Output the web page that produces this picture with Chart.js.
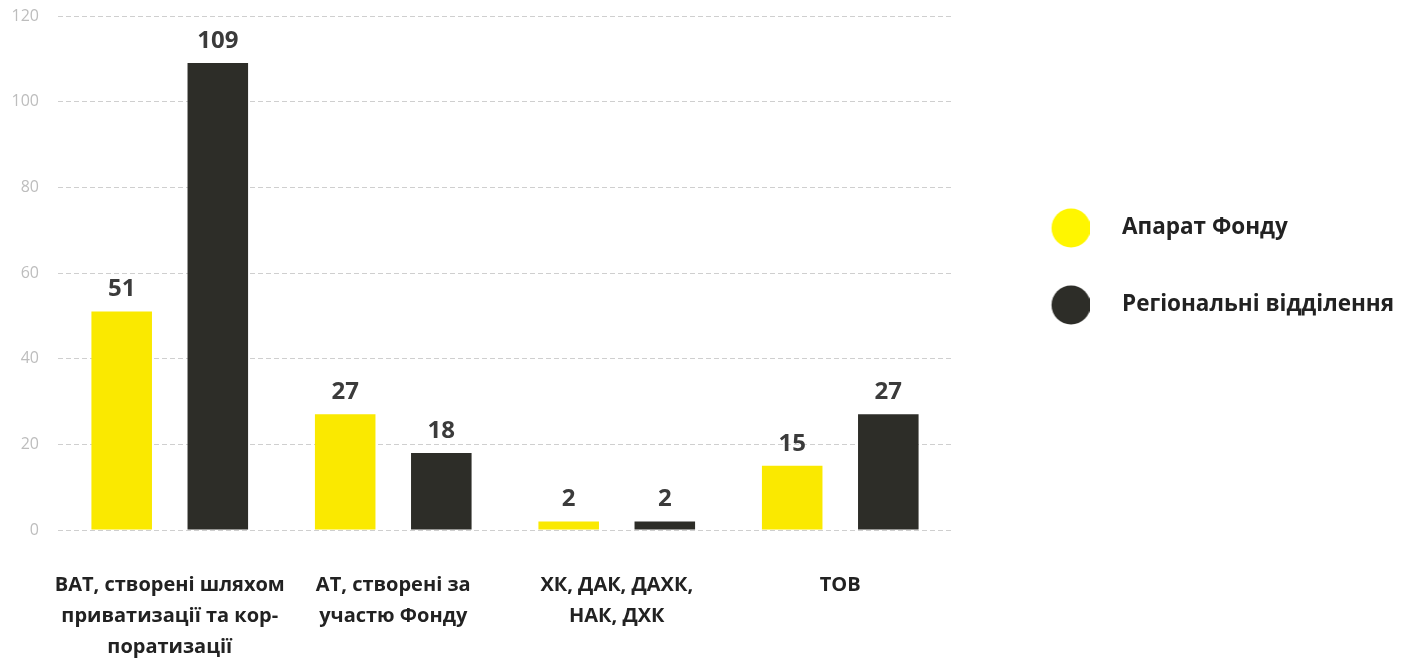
<!DOCTYPE html>
<html>
<head>
<meta charset="utf-8">
<script src="https://cdn.jsdelivr.net/npm/chart.js@4"></script>
<style>
  html, body { margin: 0; padding: 0; background: #fff; overflow: hidden; }
  #wrap { width: 1414px; height: 659px; }
</style>
</head>
<body>
<div id="wrap"><canvas id="typesChart"></canvas></div>
<script>
// categories (x axis), multi-line like the original
let categories = [
    ["ВАТ, створені шляхом", "приватизації та кор-", "поратизації"],
    ["АТ, створені за", "участю Фонду"],
    ["ХК, ДАК, ДАХК,", "НАК, ДХК"],
    "ТОВ",
];
let seriesNames = ["Апарат Фонду", "Регіональні відділення"];
let apparatValues = [51, 27, 2, 15];
let regionalValues = [109, 18, 2, 27];
let yTicks = [0, 20, 40, 60, 80, 100, 120];

let yellow = "#fae900";
let dark = "#2d2d28";
let fontFamily = "'Open Sans', 'Noto Sans', sans-serif";

// legend dot: circle drawn off-center in a wider image so that it sits right
function makeDot(color) {
    let c = document.createElement("canvas");
    c.width = 62;
    c.height = 40;
    let g = c.getContext("2d");
    g.fillStyle = color;
    g.beginPath();
    g.arc(43.4, 20, 19.5, 0, Math.PI * 2);
    g.fill();
    return c;
}

// draws the numbers above each bar
let valueLabels = {
    id: "valueLabels",
    afterDatasetsDraw(chart) {
        let ctx = chart.ctx;
        ctx.save();
        ctx.font = "bold 24px " + fontFamily;
        ctx.fillStyle = "#3b3b3b";
        ctx.textAlign = "center";
        ctx.textBaseline = "middle";
        chart.data.datasets.forEach((ds, i) => {
            chart.getDatasetMeta(i).data.forEach((bar, j) => {
                ctx.fillText(ds.data[j], bar.x, bar.y - 22);
            });
        });
        ctx.restore();
    },
};

let legendFont = 22.5;
let legendGap = 54.5;
let dotWidth = 104.25;
let measure = document.createElement("canvas").getContext("2d");
measure.font = "bold " + legendFont + "px " + fontFamily;
let longest = Math.max(...seriesNames.map((s) => measure.measureText(s).width));
let rightPad = Math.max(0, 1414 - 952 - (legendGap + dotWidth + legendFont / 2 + 10) - longest);

let ctx = document.getElementById("typesChart").getContext("2d");
let typesChart = new Chart(ctx, {
    type: "bar",
    data: {
        labels: categories,
        datasets: [
            {
                label: seriesNames[0],
                data: apparatValues,
                backgroundColor: yellow,
                pointStyle: makeDot("#fff600"),
            },
            {
                label: seriesNames[1],
                data: regionalValues,
                backgroundColor: dark,
                pointStyle: makeDot(dark),
            },
        ],
    },
    options: {
        responsive: true,
        maintainAspectRatio: false,
        animation: false,
        categoryPercentage: 0.86,
        barPercentage: 0.63,
        layout: {
            autoPadding: false,
            padding: { top: 16, right: rightPad, bottom: 0, left: 0 },
        },
        plugins: {
            tooltip: { enabled: false },
            legend: {
                position: "right",
                align: "start",
                maxWidth: 600,
                title: {
                    display: true,
                    text: " ",
                    font: { size: 12, lineHeight: 1.2 },
                    padding: { top: 131.85, bottom: 0 },
                },
                labels: {
                    usePointStyle: true,
                    pointStyleWidth: dotWidth,
                    padding: legendGap,
                    color: "#222",
                    font: { family: fontFamily, size: legendFont, weight: "bold" },
                },
            },
        },
        scales: {
            x: {
                afterFit(scale) {
                    scale.height = 129;
                },
                grid: { display: false },
                border: { display: false },
                ticks: {
                    padding: 32,
                    maxRotation: 0,
                    minRotation: 0,
                    autoSkip: false,
                    color: "#222",
                    font: { family: fontFamily, size: 20, weight: "bold", lineHeight: 1.55 },
                },
            },
            y: {
                min: 0,
                max: 120,
                afterFit(scale) {
                    scale.width = 58;
                    scale.paddingTop = 0;
                    scale.paddingBottom = 0;
                },
                afterBuildTicks(scale) {
                    scale.ticks = yTicks.map((v) => ({ value: v }));
                },
                border: { display: false, dash: [5, 3] },
                grid: { color: "#cfcfcf", drawTicks: false },
                ticks: {
                    padding: 19,
                    color: "#bdbdbd",
                    font: { family: fontFamily, size: 16 },
                },
            },
        },
    },
    plugins: [valueLabels],
});
</script>
</body>
</html>
